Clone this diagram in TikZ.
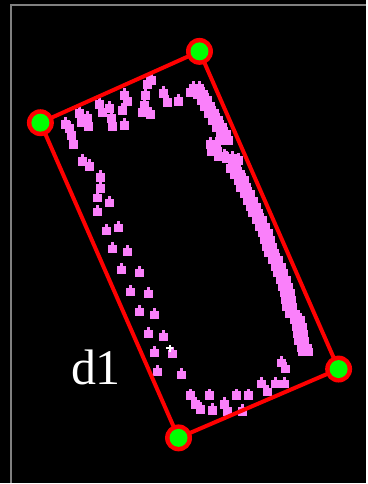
\documentclass[tikz,border=0pt]{standalone}
\usepackage{fontspec}
\setmainfont{Liberation Serif}
\definecolor{ptpink}{RGB}{250,128,250}
\definecolor{ptgreen}{RGB}{0,255,0}
\definecolor{ptred}{RGB}{255,0,0}
\definecolor{framegray}{RGB}{128,128,128}

\begin{document}
\begin{tikzpicture}[x=1pt,y=-1pt,
  pics/ptdot/.style={code={\fill[ptpink] (-4.5,-3.5) rectangle (4.5,5);
                            \fill[ptpink] (-1.5,-6.5) rectangle (1.5,-3);}},
  edge/.style={ptred,line width=4pt,line join=round},
  corner/.style={ptred}]
\fill[black] (0,0) rectangle (367,484);
\draw[framegray,line width=2.5pt] (11,484)--(11,5)--(367,5);
% scattered points
\foreach \x/\y in {70/128,72/135,74/144,66/124,80/113,82/122,88/118,89/126,
  100/104,103/112,110/108,112/118,113/126,125/95,128/101,123/110,125/125,
  148/84,146/95,145/105,143/112,151/114,152/80,164/93,168/102,179/101,191/92,
  83/161,90/166,101/177,101/188,98/198,110/203,98/212,107/231,119/228,
  113/249,128/252,122/270,140/273,131/292,149/294,140/312,155/315,149/334,
  164/337,155/353,173/354,158/372,182/375,191/396,196/405,201/410,210/396,
  213/411,225/405,228/412,237/396,249/396,243/412,262/384,268/392,276/384,
  285/384,286/369,282/363}
  \pic at (\x,\y) {ptdot};
% dense band on the right
\foreach \x/\y in {197/88,201/94,205/100,208/106,212/113,216/120,220/127,
  224/134,226/140,214/144,215/151,222/156,230/158,236/160,234/168,238/174,
  242/180,244/187,248/194,251/201,254/207,256/213,260/220,263/227,266/233,
  268/240,270/247,272/253,276/260,279/267,281/273,284/280,286/287,288/293,
  289/300,290/307,293/314,298/320,300/327,301/334,302/341,305/348,306/352}
  {\pic at (\x-3,\y) {ptdot}; \pic at (\x+3,\y) {ptdot};}
% box
\coordinate (A) at (40.5,123); \coordinate (B) at (200,51.5);
\coordinate (C) at (339.5,370); \coordinate (D) at (179,439);
\draw[edge] (A)--(B)--(C)--(D)--cycle;
\foreach \p in {A,B,C,D}{
  \fill[corner] (\p) circle (13.5);
  \fill[ptgreen] (\p) circle (9);
}
\fill[white] (166.5,348) rectangle (173.5,350);
\fill[white] (169,345.5) rectangle (171,352.5);
\node[white,anchor=base west,inner sep=0pt,font=\fontsize{50}{50}\selectfont] (lbl) at (71,385) {d1};
\end{tikzpicture}
\end{document}
